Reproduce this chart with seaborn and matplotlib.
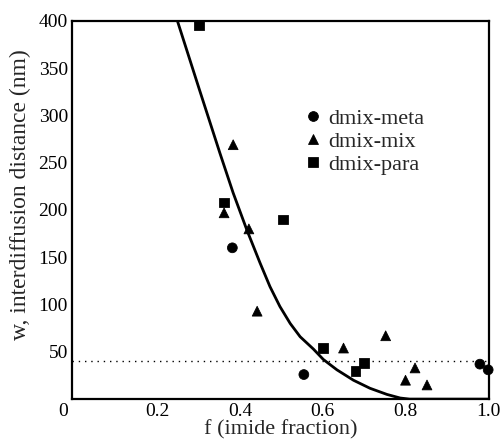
import pandas as pd
import matplotlib
matplotlib.use('Agg')
import matplotlib.pyplot as plt
import matplotlib.transforms as mtransforms
import seaborn as sns

# Pontos medidos (f = fracao de imida, w = distancia de interdifusao em nm)
meta_f = [0.381, 0.554, 0.98, 1.0]
meta_w = [160, 26, 37, 31]

mix_f = [0.361, 0.383, 0.421, 0.441, 0.65, 0.752, 0.80, 0.823, 0.852]
mix_w = [197, 269, 180, 93, 54, 67, 20, 33, 15]

para_f = [0.30, 0.361, 0.503, 0.601, 0.679, 0.70]
para_w = [395, 208, 190, 54, 30, 38]

# Curva de ajuste
curva_f = [0.240, 0.248, 0.300, 0.351, 0.383, 0.416, 0.448, 0.472, 0.496,
           0.521, 0.545, 0.577, 0.601, 0.634, 0.674, 0.714, 0.755, 0.787,
           0.810, 1.0]
curva_w = [415, 400, 329, 260, 218, 179, 144, 119, 98,
           80, 66, 53, 42, 31, 20, 11.5, 5, 1.2,
           0, 0]

limite_w = 40
series = ['dmix-meta', 'dmix-mix', 'dmix-para']

x_ticks = [0, 0.2, 0.4, 0.6, 0.8, 1.0]
x_labels = ['0', '0.2', '0.4', '0.6', '0.8', '1.0']
y_ticks = [0, 50, 100, 150, 200, 250, 300, 350, 400]
# o "0" do canto e compartilhado pelos dois eixos
y_labels = ['', '50', '100', '150', '200', '250', '300', '350', '400']

df = pd.DataFrame({
    'f': meta_f + mix_f + para_f,
    'w': meta_w + mix_w + para_w,
    'serie': [series[0]] * len(meta_f) + [series[1]] * len(mix_f) + [series[2]] * len(para_f),
})
df_curva = pd.DataFrame({'f': curva_f, 'w': curva_w})

sns.set_style('white')
plt.rcParams['font.family'] = ['Liberation Serif', 'DejaVu Serif']

fig = plt.figure(figsize=(5, 4.43), dpi=100)
ax = fig.add_axes([0.144, 0.099, 0.834, 0.854])

sns.lineplot(data=df_curva, x='f', y='w', color='black', linewidth=2.0,
             ax=ax, legend=False, sort=False)
ax.axhline(limite_w, color='black', linestyle=(0, (1, 3.5)), linewidth=1.0)

sns.scatterplot(data=df, x='f', y='w', style='serie', style_order=series,
                markers={'dmix-meta': 'o', 'dmix-mix': '^', 'dmix-para': 's'},
                color='black', edgecolor='black', s=50, ax=ax, clip_on=False,
                zorder=5)

ax.set_xlim(-0.007, 1.002)
ax.set_ylim(0, 400)
ax.set_xticks(x_ticks)
ax.set_xticklabels(x_labels)
ax.set_yticks(y_ticks)
ax.set_yticklabels(y_labels)
ax.tick_params(direction='in', length=9, width=1.0, labelsize=14,
               top=False, right=False, colors='black')
ax.tick_params(axis='x', pad=3)
ax.tick_params(axis='y', pad=3)

# desloca o "0" para o canto, como no original
zero = ax.get_xticklabels()[0]
zero.set_horizontalalignment('right')
zero.set_transform(zero.get_transform() +
                   mtransforms.ScaledTranslation(-7 / 100, 0, fig.dpi_scale_trans))

for lado in ax.spines.values():
    lado.set_linewidth(1.6)
    lado.set_color('black')

ax.set_xlabel('f (imide fraction)', fontsize=16, labelpad=0)
ax.set_ylabel('w, interdiffusion distance (nm)', fontsize=17)
ax.yaxis.set_label_coords(-0.098, 0.54)

leg = ax.legend(loc='upper left', bbox_to_anchor=(0.53, 0.793), frameon=False,
                fontsize=16, handletextpad=0.2, labelspacing=0.115,
                handlelength=1.0, markerscale=1.0, borderaxespad=0)
for h in leg.legend_handles:
    h.set_color('black')

fig.savefig('out.png', dpi=100)
